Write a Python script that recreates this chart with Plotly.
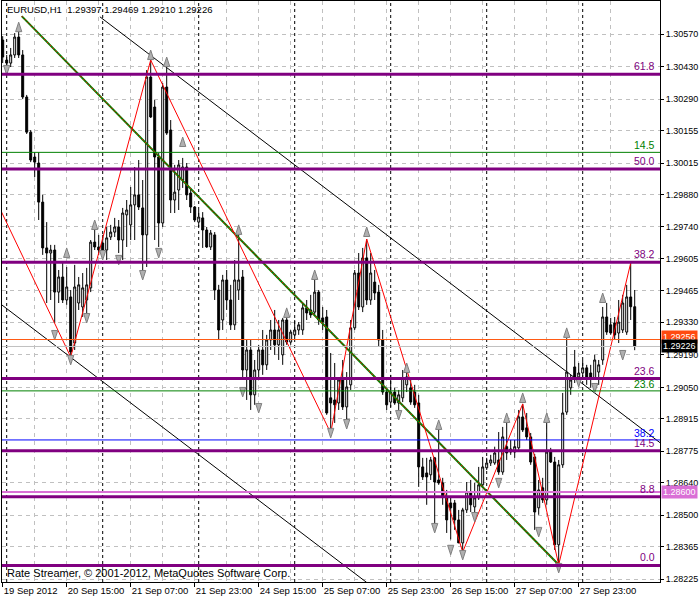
import plotly.graph_objects as go

# ---------------- data ----------------
bar_index = list(range(159))

open_ = [
1.30544, 1.30458, 1.30445, 1.30480, 1.30557, 1.30480, 1.30299, 1.30148, 1.30041, 1.30015,
1.29847, 1.29650, 1.29628, 1.29641, 1.29460, 1.29525, 1.29426, 1.29439, 1.29241, 1.29413,
1.29396, 1.29426, 1.29478, 1.29675, 1.29654, 1.29671, 1.29641, 1.29697, 1.29718, 1.29740,
1.29684, 1.29792, 1.29749, 1.29835, 1.29878, 1.29822, 1.29706, 1.30385, 1.30256, 1.30041,
1.29757, 1.30342, 1.30157, 1.29856, 1.29899, 1.29942, 1.29998, 1.29886, 1.29826, 1.29761,
1.29779, 1.29727, 1.29654, 1.29706, 1.29469, 1.29340, 1.29512, 1.29426, 1.29319, 1.29469,
1.29525, 1.29125, 1.29211, 1.29018, 1.29125, 1.29211, 1.29147, 1.29254, 1.29297, 1.29233,
1.29190, 1.29340, 1.29245, 1.29276, 1.29297, 1.29297, 1.29392, 1.29383, 1.29374, 1.29460,
1.29349, 1.29353, 1.29005, 1.28996, 1.28983, 1.29091, 1.28966, 1.29061, 1.29306, 1.29542,
1.29396, 1.29607, 1.29426, 1.29503, 1.29460, 1.29254, 1.29030, 1.28987, 1.29030, 1.28983,
1.29005, 1.29061, 1.29048, 1.29030, 1.28983, 1.28708, 1.28682, 1.28674, 1.28747, 1.28652,
1.28639, 1.28579, 1.28553, 1.28553, 1.28480, 1.28381, 1.28523, 1.28600, 1.28536, 1.28575,
1.28631, 1.28704, 1.28725, 1.28725, 1.28738, 1.28686, 1.28795, 1.28772, 1.28772, 1.28790,
1.28923, 1.28876, 1.28837, 1.28751, 1.28532, 1.28618, 1.28566, 1.28772, 1.28729, 1.28373,
1.28717, 1.28944, 1.29048, 1.29138, 1.29095, 1.29112, 1.29134, 1.29112, 1.29091, 1.29116,
1.29168, 1.29353, 1.29319, 1.29327, 1.29284, 1.29297, 1.29288, 1.29439, 1.29397,
]

high = [
1.30561, 1.30480, 1.30510, 1.30574, 1.30583, 1.30501, 1.30308, 1.30157, 1.30062, 1.30062,
1.29878, 1.29761, 1.29663, 1.29663, 1.29555, 1.29585, 1.29568, 1.29469, 1.29577, 1.29525,
1.29542, 1.29564, 1.29684, 1.29727, 1.29706, 1.29706, 1.29740, 1.29749, 1.29779, 1.29770,
1.29822, 1.29856, 1.29912, 1.29998, 1.30028, 1.29942, 1.30415, 1.30458, 1.30286, 1.30058,
1.30359, 1.30424, 1.30200, 1.30007, 1.30028, 1.30037, 1.30015, 1.29908, 1.29830, 1.29813,
1.29804, 1.29740, 1.29727, 1.29718, 1.29491, 1.29534, 1.29555, 1.29491, 1.29598, 1.29706,
1.29555, 1.29254, 1.29254, 1.29168, 1.29233, 1.29297, 1.29276, 1.29340, 1.29383, 1.29340,
1.29349, 1.29362, 1.29297, 1.29340, 1.29331, 1.29413, 1.29426, 1.29448, 1.29512, 1.29469,
1.29396, 1.29383, 1.29198, 1.29155, 1.29091, 1.29168, 1.29116, 1.29340, 1.29555, 1.29628,
1.29650, 1.29688, 1.29628, 1.29555, 1.29491, 1.29297, 1.29048, 1.29104, 1.29048, 1.29039,
1.29125, 1.29138, 1.29082, 1.29061, 1.29018, 1.28747, 1.28747, 1.28751, 1.28751, 1.28867,
1.28661, 1.28609, 1.28579, 1.28566, 1.28523, 1.28532, 1.28643, 1.28652, 1.28639, 1.28708,
1.28751, 1.28747, 1.28760, 1.28795, 1.28858, 1.28880, 1.28897, 1.28824, 1.28824, 1.28953,
1.28979, 1.28940, 1.28854, 1.28764, 1.28652, 1.28661, 1.28940, 1.28790, 1.28751, 1.28738,
1.29026, 1.29262, 1.29104, 1.29211, 1.29155, 1.29168, 1.29147, 1.29147, 1.29190, 1.29168,
1.29396, 1.29413, 1.29349, 1.29353, 1.29426, 1.29448, 1.29491, 1.29585, 1.29469,
]

low = [
1.30445, 1.30432, 1.30428, 1.30467, 1.30467, 1.30290, 1.30140, 1.30019, 1.29955, 1.29770,
1.29620, 1.29413, 1.29426, 1.29327, 1.29413, 1.29413, 1.29405, 1.29181, 1.29211, 1.29383,
1.29353, 1.29362, 1.29460, 1.29641, 1.29620, 1.29615, 1.29598, 1.29684, 1.29697, 1.29628,
1.29598, 1.29654, 1.29684, 1.29684, 1.29813, 1.29542, 1.29568, 1.30209, 1.29684, 1.29654,
1.29740, 1.30136, 1.29800, 1.29800, 1.29813, 1.29908, 1.29856, 1.29800, 1.29761, 1.29740,
1.29650, 1.29650, 1.29641, 1.29426, 1.29254, 1.29297, 1.29383, 1.29297, 1.29297, 1.29426,
1.29082, 1.28996, 1.28953, 1.28975, 1.29082, 1.29104, 1.29125, 1.29211, 1.29190, 1.29168,
1.29147, 1.29233, 1.29233, 1.29254, 1.29276, 1.29276, 1.29340, 1.29349, 1.29362, 1.29319,
1.29297, 1.28932, 1.28854, 1.28897, 1.28953, 1.28953, 1.28901, 1.29039, 1.29297, 1.29383,
1.29374, 1.29405, 1.29405, 1.29426, 1.29224, 1.29018, 1.28953, 1.28966, 1.28975, 1.28953,
1.28987, 1.29030, 1.28975, 1.28962, 1.28622, 1.28652, 1.28545, 1.28652, 1.28459, 1.28631,
1.28545, 1.28424, 1.28396, 1.28437, 1.28381, 1.28342, 1.28510, 1.28514, 1.28502, 1.28566,
1.28622, 1.28695, 1.28712, 1.28717, 1.28674, 1.28674, 1.28738, 1.28760, 1.28747, 1.28781,
1.28858, 1.28824, 1.28717, 1.28437, 1.28502, 1.28553, 1.28545, 1.28725, 1.28351, 1.28287,
1.28704, 1.28932, 1.29018, 1.29069, 1.29082, 1.29091, 1.29061, 1.29048, 1.29082, 1.29061,
1.29147, 1.29276, 1.29276, 1.29254, 1.29241, 1.29284, 1.29276, 1.29340, 1.29210,
]

close = [
1.30471, 1.30445, 1.30480, 1.30557, 1.30480, 1.30299, 1.30148, 1.30028, 1.30019, 1.29847,
1.29650, 1.29628, 1.29641, 1.29460, 1.29525, 1.29426, 1.29482, 1.29202, 1.29482, 1.29491,
1.29478, 1.29491, 1.29675, 1.29654, 1.29641, 1.29632, 1.29693, 1.29718, 1.29740, 1.29684,
1.29800, 1.29813, 1.29835, 1.29878, 1.29826, 1.29706, 1.30385, 1.30213, 1.30041, 1.29757,
1.30342, 1.30144, 1.29856, 1.29890, 1.30007, 1.29998, 1.29878, 1.29826, 1.29770, 1.29783,
1.29727, 1.29654, 1.29714, 1.29469, 1.29297, 1.29512, 1.29426, 1.29319, 1.29512, 1.29512,
1.29125, 1.29211, 1.29018, 1.29125, 1.29211, 1.29147, 1.29254, 1.29297, 1.29233, 1.29297,
1.29340, 1.29245, 1.29288, 1.29297, 1.29319, 1.29392, 1.29370, 1.29362, 1.29460, 1.29340,
1.29331, 1.28940, 1.28983, 1.28975, 1.29082, 1.28966, 1.29052, 1.29306, 1.29542, 1.29396,
1.29607, 1.29426, 1.29542, 1.29456, 1.29254, 1.29030, 1.28975, 1.29030, 1.28983, 1.29018,
1.29091, 1.29095, 1.28987, 1.28975, 1.28708, 1.28665, 1.28665, 1.28738, 1.28643, 1.28639,
1.28579, 1.28480, 1.28532, 1.28480, 1.28381, 1.28523, 1.28600, 1.28545, 1.28575, 1.28631,
1.28708, 1.28725, 1.28738, 1.28768, 1.28686, 1.28837, 1.28768, 1.28785, 1.28795, 1.28923,
1.28867, 1.28837, 1.28729, 1.28514, 1.28609, 1.28566, 1.28772, 1.28729, 1.28373, 1.28717,
1.28940, 1.29116, 1.29082, 1.29095, 1.29112, 1.29134, 1.29091, 1.29091, 1.29168, 1.29147,
1.29353, 1.29288, 1.29284, 1.29276, 1.29331, 1.29413, 1.29439, 1.29397, 1.29226,
]

time_tick_bars = [0, 16, 32, 48, 64, 80, 96, 112, 128, 144]
time_tick_labels = ["19 Sep 2012", "20 Sep 15:00", "21 Sep 07:00", "21 Sep 23:00",
                    "24 Sep 15:00", "25 Sep 07:00", "25 Sep 23:00", "26 Sep 15:00",
                    "27 Sep 07:00", "27 Sep 23:00"]
time_grid_bars = [8, 24, 40, 56, 72, 88, 104, 120, 136, 152]
day_separator_bars = [1, 25, 49, 73, 97, 121, 145]

price_ticks = [1.30570, 1.30430, 1.30290, 1.30155, 1.30015, 1.29880, 1.29740, 1.29605,
               1.29465, 1.29330, 1.29190, 1.29050, 1.28915, 1.28775, 1.28640, 1.28500,
               1.28365, 1.28225]
price_tick_labels = ["%.5f" % v for v in price_ticks]

# ZigZag turning points (bar, price)
zigzag_bars = [-2, 17, 37, 82, 91, 115, 130, 139, 157]
zigzag_prices = [1.29866, 1.29181, 1.30458, 1.28854, 1.29688, 1.28342, 1.28979, 1.28287, 1.29585]

# Trend line (green) endpoints
trend_bars = [4.75, 139]
trend_prices = [1.30647, 1.28287]

# Channel lines (two anchors each)
chan_up_bars = [24.3, 164.5]
chan_up_prices = [1.30644, 1.28810]
chan_lo_bars = [-1, 91]
chan_lo_prices = [1.29415, 1.28211]

# Fractals
fr_up_bars = [4, 37, 41, 45, 16, 23, 59, 71, 78, 91, 101, 109, 126, 130, 136, 141, 150]
fr_up_prices = [1.30621, 1.30501, 1.30471, 1.30127, 1.29650, 1.29770, 1.29749, 1.29392,
                1.29555, 1.29740, 1.29155, 1.28910, 1.28940, 1.29026, 1.28940, 1.29306, 1.29456]
fr_dn_bars = [1, 13, 17, 21, 25, 29, 35, 39, 60, 64, 82, 86, 99, 108, 112, 115, 118,
              124, 134, 139, 144, 148, 155]
fr_dn_prices = [1.30394, 1.29254, 1.29147, 1.29327, 1.29598, 1.29577, 1.29512, 1.29607,
                1.29009, 1.28940, 1.28833, 1.28871, 1.28910, 1.28424, 1.28330, 1.28308,
                1.28471, 1.28618, 1.28407, 1.28252, 1.29052, 1.29026, 1.29168]

# Fibonacci levels (purple)
fibo_labels = ["61.8", "50.0", "38.2", "23.6", "14.5", "8.8", "0.0"]
fibo_prices = [1.30397, 1.29989, 1.29588, 1.29088, 1.28777, 1.28580, 1.28284]
# second level set
fibo2_labels = ["14.5", "23.6", "38.2"]
fibo2_prices = [1.30061, 1.29035, 1.28824]
fibo2_colors = ["#008000", "#008000", "#0000FF"]

ask_price = 1.29256
bid_price = 1.29226
hline_price = 1.28600
header_text = "EURUSD,H1  1.29397 1.29469 1.29210 1.29226"
footer_text = "Rate Streamer, © 2001-2012, MetaQuotes Software Corp."

# ---------------- figure ----------------
FONT = "Liberation Sans, Arial, sans-serif"
PURPLE = "#800080"
GRID = "#C0C0C0"

fig = go.Figure()

fig.add_trace(go.Candlestick(
    x=bar_index, open=open_, high=high, low=low, close=close,
    increasing=dict(line=dict(color="black", width=1), fillcolor="white"),
    decreasing=dict(line=dict(color="black", width=1), fillcolor="black"),
    whiskerwidth=0, hoverinfo="skip", showlegend=False))

# channel lines
fig.add_trace(go.Scatter(x=chan_up_bars, y=chan_up_prices, mode="lines",
                         line=dict(color="black", width=1), showlegend=False, hoverinfo="skip"))
fig.add_trace(go.Scatter(x=chan_lo_bars, y=chan_lo_prices, mode="lines",
                         line=dict(color="black", width=1), showlegend=False, hoverinfo="skip"))

# trend line
fig.add_trace(go.Scatter(x=trend_bars, y=trend_prices, mode="lines",
                         line=dict(color="#008000", width=2), showlegend=False, hoverinfo="skip"))
fig.add_trace(go.Scatter(x=trend_bars, y=trend_prices, mode="lines",
                         line=dict(color="red", width=1, dash="2px,2px"), showlegend=False, hoverinfo="skip"))

# zigzag
fig.add_trace(go.Scatter(x=zigzag_bars, y=zigzag_prices, mode="lines",
                         line=dict(color="red", width=1), showlegend=False, hoverinfo="skip"))

# fractals
fig.add_trace(go.Scatter(x=fr_up_bars, y=fr_up_prices, mode="markers",
                         marker=dict(symbol="arrow", size=10, color="#B0B0B0", angle=0,
                                     line=dict(color="#808080", width=1)),
                         showlegend=False, hoverinfo="skip"))
fig.add_trace(go.Scatter(x=fr_dn_bars, y=fr_dn_prices, mode="markers",
                         marker=dict(symbol="arrow", size=10, color="#B0B0B0", angle=180,
                                     line=dict(color="#808080", width=1)),
                         showlegend=False, hoverinfo="skip"))

shapes = []
# day separators
for b in day_separator_bars:
    shapes.append(dict(type="line", xref="x", yref="paper", x0=b, x1=b, y0=0, y1=1,
                       line=dict(color="black", width=1, dash="3px,3px"), layer="below"))
# simple horizontal lines
shapes.append(dict(type="line", xref="paper", yref="y", x0=0, x1=1, y0=bid_price, y1=bid_price,
                   line=dict(color="#C0C0C0", width=1)))
shapes.append(dict(type="line", xref="paper", yref="y", x0=0, x1=1, y0=ask_price, y1=ask_price,
                   line=dict(color="#FF5A14", width=1)))
shapes.append(dict(type="line", xref="paper", yref="y", x0=0, x1=1, y0=hline_price, y1=hline_price,
                   line=dict(color="#DA70D6", width=2)))
for p, c in zip(fibo2_prices, fibo2_colors):
    shapes.append(dict(type="line", xref="paper", yref="y", x0=0, x1=1, y0=p, y1=p,
                       line=dict(color=c, width=1)))
for p in fibo_prices:
    shapes.append(dict(type="line", xref="paper", yref="y", x0=0, x1=1, y0=p, y1=p,
                       line=dict(color=PURPLE, width=3)))

annotations = []
for t, p in zip(fibo_labels, fibo_prices):
    annotations.append(dict(text=t, xref="paper", yref="y", x=1, y=p, xanchor="right",
                            yanchor="bottom", xshift=-3, yshift=0, showarrow=False,
                            font=dict(family=FONT, size=10.5, color=PURPLE)))
for t, p, c in zip(fibo2_labels, fibo2_prices, fibo2_colors):
    annotations.append(dict(text=t, xref="paper", yref="y", x=1, y=p, xanchor="right",
                            yanchor="bottom", xshift=-3, yshift=-1, showarrow=False,
                            font=dict(family=FONT, size=10.5, color=c)))
# price boxes on the axis
for p, bg, ys in [(ask_price, "#FF4A10", 3), (bid_price, "black", 0), (hline_price, "#DA70D6", 0)]:
    annotations.append(dict(text="%.5f" % p, xref="paper", yref="y", x=1, y=p,
                            xanchor="left", yanchor="middle", xshift=1, yshift=ys, showarrow=False,
                            bgcolor=bg, borderpad=1,
                            font=dict(family=FONT, size=9, color="white")))
annotations.append(dict(text=header_text, xref="paper", yref="paper", x=0, y=1,
                        xanchor="left", yanchor="top", xshift=3, yshift=-1, showarrow=False,
                        font=dict(family=FONT, size=9.5, color="black")))
annotations.append(dict(text=footer_text, xref="paper", yref="paper", x=0, y=0,
                        xanchor="left", yanchor="bottom", xshift=3, yshift=1, showarrow=False,
                        font=dict(family=FONT, size=11, color="black")))

fig.update_layout(
    width=700, height=600,
    margin=dict(l=2, r=40, t=1, b=18, autoexpand=False),
    paper_bgcolor="white", plot_bgcolor="white",
    showlegend=False,
    shapes=shapes, annotations=annotations,
    xaxis=dict(range=[-0.175, 164.325], rangeslider=dict(visible=False),
               tickmode="array", tickvals=time_tick_bars, ticktext=time_tick_labels,
               ticks="outside", ticklen=4, tickcolor="black", tickangle=0,
               ticklabelposition="outside right",
               tickfont=dict(family=FONT, size=9.5, color="black"),
               showgrid=True, gridcolor=GRID, griddash="4px,4px", gridwidth=1,
               minor=dict(tickvals=time_grid_bars, showgrid=True, gridcolor=GRID,
                          griddash="4px,4px", ticks=""),
               showline=True, linecolor="black", linewidth=1, mirror=True,
               zeroline=False, fixedrange=True, automargin=False),
    yaxis=dict(range=[1.28213, 1.30712], side="right",
               tickmode="array", tickvals=price_ticks, ticktext=price_tick_labels,
               ticks="outside", ticklen=3, tickcolor="black",
               tickfont=dict(family=FONT, size=9, color="black"),
               showgrid=True, gridcolor=GRID, griddash="4px,4px", gridwidth=1,
               showline=True, linecolor="black", linewidth=1, mirror=True,
               zeroline=False, fixedrange=True, automargin=False),
)

fig.write_html("out.html", config={"displayModeBar": False, "staticPlot": True},
               post_script="document.body.style.margin='0';document.body.style.padding='0';"
                           "document.documentElement.style.overflow='hidden';")
